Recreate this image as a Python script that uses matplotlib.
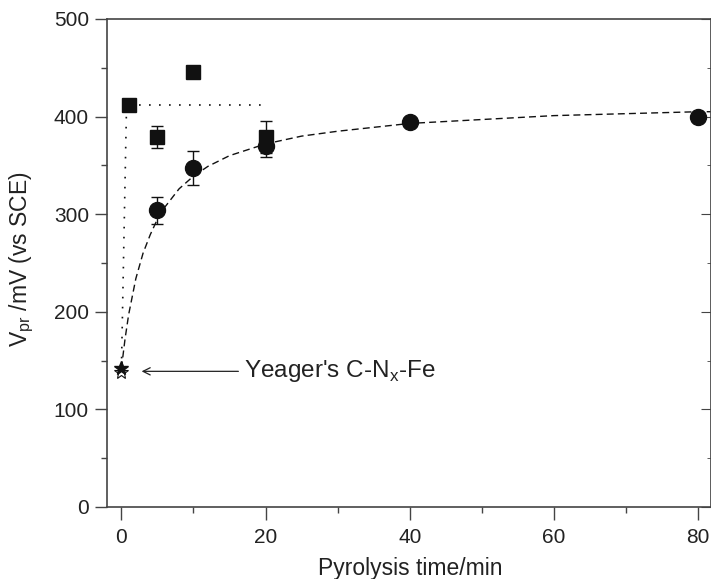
import numpy as np
import matplotlib
matplotlib.use("Agg")
import matplotlib.pyplot as plt
from matplotlib.ticker import MultipleLocator

plt.rcParams['font.family'] = ['Liberation Sans', 'DejaVu Sans']
plt.rcParams['mathtext.fontset'] = 'custom'
plt.rcParams['mathtext.rm'] = 'Liberation Sans'

# squares (with error bars where visible)
sq_t = [1, 5, 10, 20]
sq_v = [412, 379, 446, 379]
sq_err = [0, 11.5, 0, 16]

# circles
ci_t = [5, 10, 20, 40, 80]
ci_v = [304, 347, 370, 394, 400]
ci_err = [14, 17.5, 11, 0, 0]

# Yeager's C-Nx-Fe reference point
star_t = 0
star_v = 142

# dashed trend curve
curve_t = [0, 0.5, 1, 2, 3, 4, 5, 6, 8, 10, 12, 15, 20, 25, 30, 40, 50, 60, 70, 80, 82]
curve_v = [142, 172, 197, 234, 260, 279, 295, 307, 326, 339, 349, 360, 372, 380, 385, 393, 397, 401, 403, 405, 405]

# dotted guide lines
guide_v_t = [0, 0.7]
guide_v_v = [142, 408]
guide_h_t = [1, 20]
guide_h_v = [412, 412]

ink = '#111111'
axcol = '#444444'
txt = '#222222'

fig = plt.figure(figsize=(7.11, 5.79), dpi=100)
ax = fig.add_axes([107/711, 72/579, 1 - 107/711, 488/579])

ax.plot(curve_t, curve_v, color=ink, lw=1.0, dashes=(5, 3), zorder=2)
ax.plot(guide_v_t, guide_v_v, color=ink, lw=1.2, dashes=(1, 5), zorder=2)
ax.plot(guide_h_t, guide_h_v, color=ink, lw=1.2, dashes=(1, 5), zorder=2)

ax.errorbar(sq_t, sq_v, yerr=sq_err, fmt='s', color=ink, ms=10, mec=ink,
            ecolor=ink, elinewidth=1.0, capsize=4, capthick=1.0, zorder=3)
ax.errorbar(ci_t, ci_v, yerr=ci_err, fmt='o', color=ink, ms=11.5, mec=ink,
            ecolor=ink, elinewidth=1.0, capsize=4, capthick=1.0, zorder=4)

ax.plot(star_t, star_v - 4, marker='*', ms=10, mfc='white', mec=ink, mew=0.8, ls='none', zorder=5)
ax.plot(star_t, star_v, marker='*', ms=10, color=ink, ls='none', zorder=6)

ax.annotate("Yeager's C-N$_\\mathregular{x}$-Fe", xy=(2.8, 139), xytext=(17.0, 139),
            fontsize=17.5, color=txt, va='center', ha='left',
            arrowprops=dict(arrowstyle='->', color=txt, lw=0.9,
                            shrinkA=2, shrinkB=0, mutation_scale=13))

ax.set_xlim(-2, 81.8)
ax.set_ylim(0, 500)
ax.xaxis.set_major_locator(MultipleLocator(20))
ax.xaxis.set_minor_locator(MultipleLocator(10))
ax.yaxis.set_major_locator(MultipleLocator(100))
ax.yaxis.set_minor_locator(MultipleLocator(50))
ax.tick_params(which='both', direction='out', colors=axcol, labelcolor=txt,
               labelsize=15, width=1.0)
ax.tick_params(which='major', length=9)
ax.tick_params(which='minor', length=4.5)
ax.tick_params(axis='x', pad=6)
ax.tick_params(axis='y', pad=4)

for s in ax.spines.values():
    s.set_color(axcol)
    s.set_linewidth(1.2)

sec = ax.secondary_yaxis('right')
sec.yaxis.set_major_locator(MultipleLocator(100))
sec.yaxis.set_minor_locator(MultipleLocator(50))
sec.tick_params(which='both', direction='in', colors=axcol, labelright=False)
sec.tick_params(which='major', length=7)
sec.tick_params(which='minor', length=3)

ax.set_xlabel('Pyrolysis time/min', fontsize=16.5, color=txt)
ax.xaxis.label.set_va('baseline')
ax.xaxis.set_label_coords(303/604, -68/488)
ax.set_ylabel('V$_\\mathregular{pr}$ /mV (vs SCE)', fontsize=16.5, color=txt)
ax.yaxis.label.set_va('center')
ax.yaxis.set_label_coords(-85/604, 248/488)

fig.savefig('out.png', dpi=100)
